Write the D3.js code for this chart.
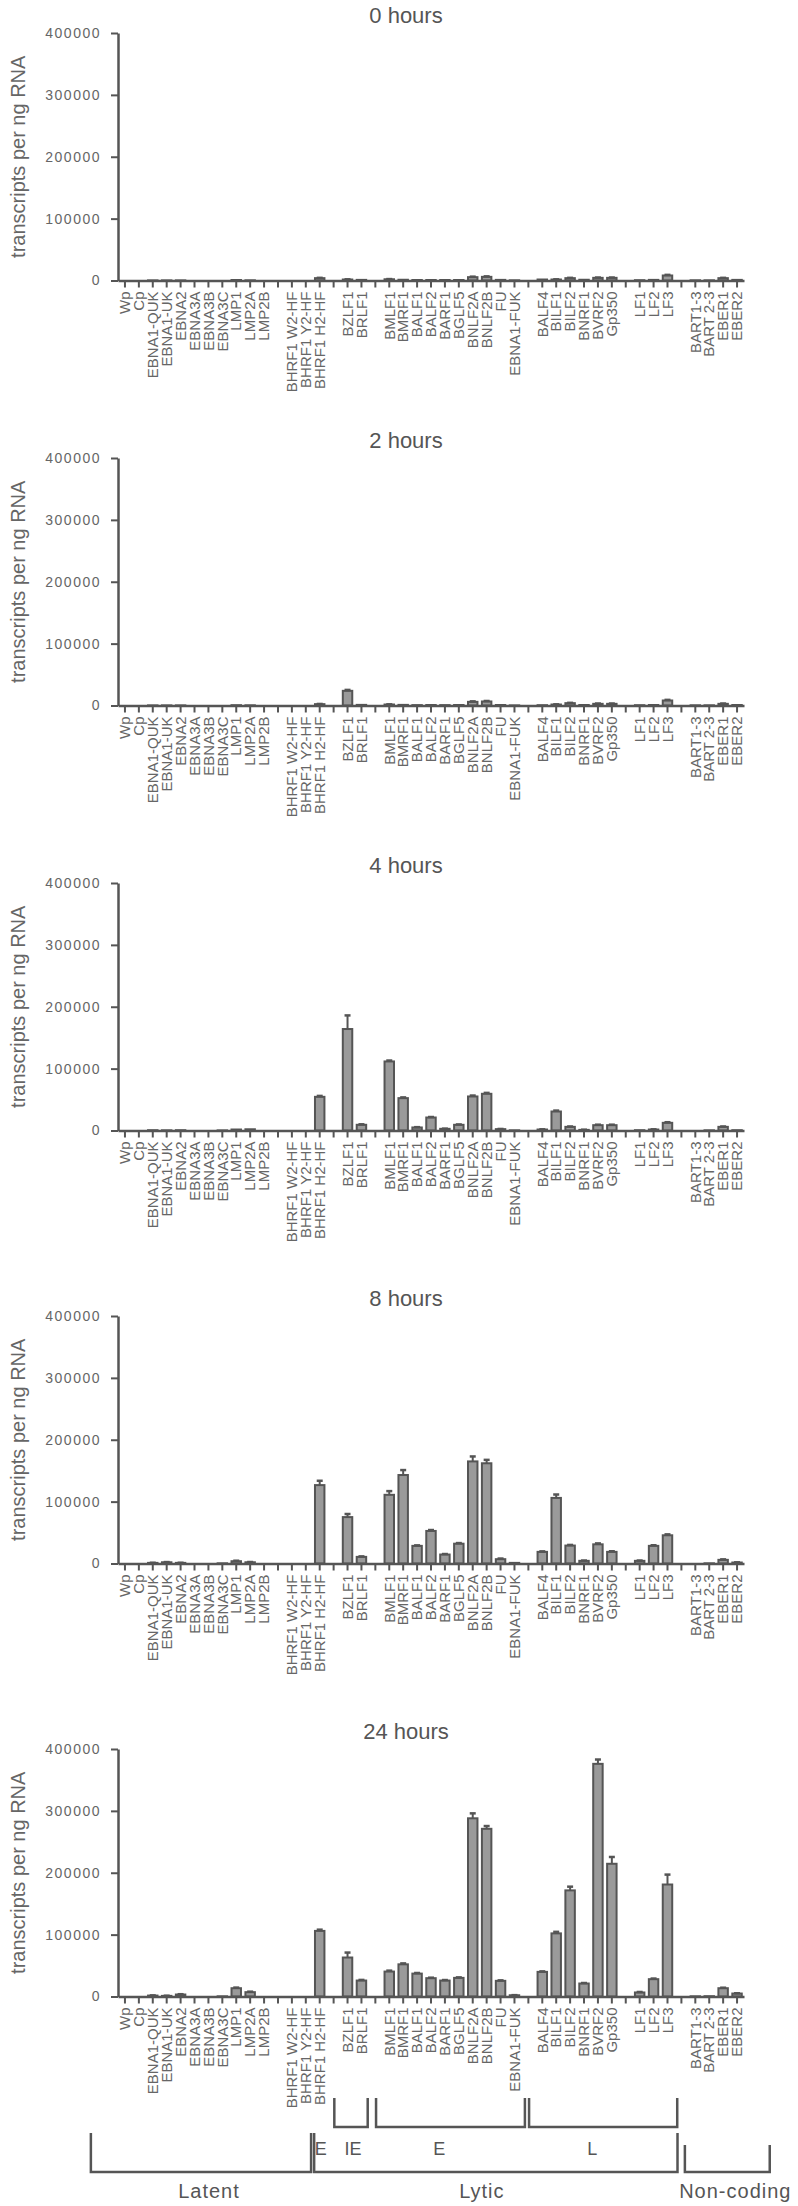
<!DOCTYPE html>
<html>
<head>
<meta charset="utf-8">
<script src="https://cdn.jsdelivr.net/npm/d3@7"></script>
<style>
  body { margin: 0; background: #fff; }
  text { font-family: "Liberation Sans", Arial, sans-serif; fill: #666; }
</style>
</head>
<body>
<div id="chart"></div>
<script>
var fullwidth = 798, fullheight = 2206;

// categories, "" = gap column (still gets a tick)
var categories = ["Wp", "Cp", "EBNA1-QUK", "EBNA1-UK", "EBNA2", "EBNA3A", "EBNA3B", "EBNA3C", "LMP1", "LMP2A", "LMP2B", "",
  "BHRF1 W2-HF", "BHRF1 Y2-HF", "BHRF1 H2-HF", "", "BZLF1", "BRLF1", "",
  "BMLF1", "BMRF1", "BALF1", "BALF2", "BARF1", "BGLF5", "BNLF2A", "BNLF2B", "FU", "EBNA1-FUK", "",
  "BALF4", "BILF1", "BILF2", "BNRF1", "BVRF2", "Gp350", "", "LF1", "LF2", "LF3", "",
  "BART1-3", "BART 2-3", "EBER1", "EBER2"];

var panelTitles = ["0 hours", "2 hours", "4 hours", "8 hours", "24 hours"];
var yTicks = [0, 100000, 200000, 300000, 400000];

var hours0 = [0, 0, 200, 200, 200, 0, 0, 0, 800, 300, 0, null, 0, 0, 3800, null, 1600, 1000, null,
  2000, 1200, 800, 800, 800, 800, 5400, 5900, 1000, 300, null,
  1600, 1600, 3800, 1200, 4300, 4300, null, 500, 1000, 8100, null, 300, 300, 3800, 1000];
var hours2 = [0, 0, 200, 200, 200, 0, 0, 0, 500, 300, 0, null, 0, 0, 2200, null, 23700, 1000, null,
  1600, 1000, 600, 800, 600, 800, 5900, 6500, 800, 200, null,
  500, 1600, 3800, 800, 2700, 2700, null, 500, 800, 8100, null, 300, 300, 2700, 800];
var hours4 = [0, 0, 500, 300, 500, 0, 0, 200, 1600, 2000, 0, null, 0, 0, 54400, null, 164000, 9200, null,
  111600, 52300, 4900, 21000, 2700, 9200, 55000, 59300, 2200, 300, null,
  1600, 30700, 5900, 1000, 8600, 8600, null, 500, 1600, 12400, null, 0, 300, 5900, 500];
var hours8 = [0, 0, 1000, 2000, 1000, 0, 0, 300, 3700, 2000, 0, null, 0, 0, 126700, null, 75000, 10700, null,
  111000, 143000, 28500, 52600, 14500, 32000, 165000, 162000, 7000, 1000, null,
  18800, 106000, 29000, 4300, 31000, 18800, null, 4300, 28500, 45600, null, 0, 300, 5900, 1600];
var hours24 = [0, 0, 1500, 1000, 3200, 0, 0, 300, 13400, 7000, 0, null, 0, 0, 106000, null, 63000, 25800, null,
  40300, 52000, 37000, 29600, 25800, 30100, 288000, 271000, 25300, 2000, null,
  39800, 102000, 171500, 21000, 376000, 214500, null, 6500, 28000, 181000, null, 300, 500, 13400, 4800];

// upper error (SEM)
var err0 = [0, 0, 0, 0, 0, 0, 0, 0, 0, 0, 0, null, 0, 0, 500, null, 300, 0, null,
  300, 0, 0, 0, 0, 0, 800, 800, 0, 0, null,
  0, 300, 500, 0, 500, 500, null, 0, 0, 1000, null, 0, 0, 500, 0];
var err2 = [0, 0, 0, 0, 0, 0, 0, 0, 0, 0, 0, null, 0, 0, 300, null, 1500, 0, null,
  300, 0, 0, 0, 0, 0, 800, 800, 0, 0, null,
  0, 300, 500, 0, 500, 500, null, 0, 0, 1000, null, 0, 0, 500, 0];
var err4 = [0, 0, 0, 0, 0, 0, 0, 0, 0, 0, 0, null, 0, 0, 1500, null, 22000, 800, null,
  1500, 1200, 500, 800, 300, 600, 1500, 1500, 300, 0, null,
  300, 1500, 600, 300, 800, 800, null, 0, 300, 1000, null, 0, 0, 600, 0];
var err8 = [0, 0, 200, 300, 200, 0, 0, 0, 800, 400, 0, null, 0, 0, 7000, null, 5000, 800, null,
  6000, 8000, 800, 1500, 800, 1000, 8000, 5500, 1000, 0, null,
  800, 5500, 1000, 500, 1500, 1000, null, 500, 1000, 1500, null, 0, 0, 800, 300];
var err24 = [0, 0, 300, 300, 500, 0, 0, 0, 1000, 800, 0, null, 0, 0, 2000, null, 8000, 1000, null,
  1500, 1500, 1000, 800, 800, 800, 8000, 4500, 800, 200, null,
  800, 2500, 6000, 800, 7000, 11000, null, 800, 1000, 16000, null, 0, 0, 800, 500];

// annotation groups under the last panel
var phaseGroups = [{label: "IE", from: "BZLF1", to: "BRLF1"},
                   {label: "E", from: "BMLF1", to: "EBNA1-FUK"},
                   {label: "L", from: "BALF4", to: "LF3"}];
var classGroups = [{label: "Latent", from: "Wp", to: "BHRF1 Y2-HF"},
                   {label: "Lytic", from: "BHRF1 H2-HF", to: "LF3"},
                   {label: "Non-coding", from: "BART1-3", to: "EBER2"}];

var series = [hours0, hours2, hours4, hours8, hours24];
var errors = [err0, err2, err4, err8, err24];

var panelTops = [33, 458, 883, 1316, 1749];
var panelHeight = 247.5;
var axisColor = "#555";

var svg = d3.select("#chart").append("svg")
    .attr("width", fullwidth)
    .attr("height", fullheight);

var xScale = d3.scaleBand()
    .domain(d3.range(categories.length))
    .range([118, 744])
    .paddingInner(0.32)
    .paddingOuter(0.16);

var step = xScale.step();
function cx(name) {
  return xScale(categories.indexOf(name)) + xScale.bandwidth() / 2;
}

series.forEach(function(values, p) {
  var top = panelTops[p];
  var yScale = d3.scaleLinear()
      .domain([0, 400000])
      .range([top + panelHeight, top]);

  var g = svg.append("g");

  g.append("text")
      .attr("x", 406)
      .attr("y", top - 10)
      .attr("text-anchor", "middle")
      .style("font-size", "22px")
      .style("fill", "#555")
      .text(panelTitles[p]);

  g.append("text")
      .attr("transform", "translate(25," + (top + panelHeight / 2) + ") rotate(-90)")
      .attr("text-anchor", "middle")
      .style("font-size", "20px")
      .text("transcripts per ng RNA");

  var yAxis = d3.axisLeft(yScale).tickValues(yTicks).tickSize(7).tickSizeOuter(0).tickPadding(10)
      .tickFormat(d3.format("d"));
  var ya = g.append("g")
      .attr("transform", "translate(118,0)")
      .call(yAxis);
  ya.select(".domain").attr("stroke", axisColor).attr("stroke-width", 2.5);
  ya.selectAll(".tick line").attr("stroke", axisColor).attr("stroke-width", 2);
  ya.selectAll(".tick text")
      .style("font-size", "14px")
      .style("letter-spacing", "1.5px")
      .style("font-family", "Liberation Sans, Arial, sans-serif")
      .attr("fill", "#666");

  var bars = g.selectAll("rect.bar")
      .data(values.map(function(v, i) { return {i: i, v: v, e: errors[p][i]}; })
        .filter(function(d) { return d.v; }))
      .enter();

  bars.append("rect")
      .attr("class", "bar")
      .attr("x", function(d) { return xScale(d.i); })
      .attr("width", xScale.bandwidth())
      .attr("y", function(d) { return yScale(d.v); })
      .attr("height", function(d) { return yScale(0) - yScale(d.v); })
      .attr("fill", "#9a9a9a")
      .attr("stroke", axisColor)
      .attr("stroke-width", 2);

  var errs = g.selectAll("g.err")
      .data(values.map(function(v, i) { return {i: i, v: v, e: errors[p][i]}; })
        .filter(function(d) { return d.v && d.e; }))
      .enter().append("g")
      .attr("class", "err")
      .attr("transform", function(d) { return "translate(" + (xScale(d.i) + xScale.bandwidth() / 2) + ",0)"; });
  errs.append("line")
      .attr("y1", function(d) { return yScale(d.v); })
      .attr("y2", function(d) { return yScale(d.v + d.e); })
      .attr("stroke", axisColor).attr("stroke-width", 2);
  errs.append("line")
      .attr("x1", -3).attr("x2", 3)
      .attr("y1", function(d) { return yScale(d.v + d.e); })
      .attr("y2", function(d) { return yScale(d.v + d.e); })
      .attr("stroke", axisColor).attr("stroke-width", 2.5);

  var xAxis = d3.axisBottom(xScale).tickSize(7).tickSizeOuter(0)
      .tickFormat(function(i) { return categories[i]; });
  var xa = g.append("g")
      .attr("transform", "translate(0," + yScale(0) + ")")
      .call(xAxis);
  xa.select(".domain").attr("stroke", axisColor).attr("stroke-width", 2.5);
  xa.selectAll(".tick line").attr("stroke", axisColor).attr("stroke-width", 2);
  xa.selectAll(".tick text")
      .attr("transform", "rotate(-90)")
      .attr("x", -11)
      .attr("y", 0)
      .attr("dy", "0.35em")
      .style("text-anchor", "end")
      .style("font-size", "15px")
      .style("font-family", "Liberation Sans, Arial, sans-serif")
      .attr("fill", "#666");
});

// brackets below the last panel
var ann = svg.append("g")
    .attr("fill", "none")
    .attr("stroke", axisColor)
    .attr("stroke-width", 2.5);

function bracket(x0, x1, yTop, yBot) {
  ann.append("path")
      .attr("d", "M" + x0 + "," + yTop + "V" + yBot + "H" + x1 + "V" + yTop);
}

var phasePad = [[-0.95, 0.45], [-0.95, 0.75], [-0.95, 0.7]];
phaseGroups.forEach(function(d, k) {
  var a = cx(d.from), b = cx(d.to);
  bracket(a + phasePad[k][0] * step, b + phasePad[k][1] * step, 2098, 2127);
  svg.append("text")
      .attr("x", a + (b - a) * 0.4)
      .attr("y", 2155)
      .attr("text-anchor", "middle")
      .style("font-size", "18px")
      .style("fill", "#555")
      .text(d.label);
});
svg.append("text")
    .attr("x", cx("BHRF1 H2-HF") + 1)
    .attr("y", 2155)
    .attr("text-anchor", "middle")
    .style("font-size", "18px")
    .style("fill", "#555")
    .text("E");

var classPad = [[-2.45, 0.38, 2133], [-0.4, 0.72, 2133], [-0.75, 2.35, 2145]];
classGroups.forEach(function(d, k) {
  var a = cx(d.from) + classPad[k][0] * step, b = cx(d.to) + classPad[k][1] * step;
  bracket(a, b, classPad[k][2], 2172);
  svg.append("text")
      .attr("x", (a + b) / 2 + (k === 0 ? 8 : k === 1 ? -14 : 8))
      .attr("y", 2198)
      .attr("text-anchor", "middle")
      .style("font-size", "20px")
      .style("letter-spacing", "1px")
      .style("fill", "#555")
      .text(d.label);
});
</script>
</body>
</html>
